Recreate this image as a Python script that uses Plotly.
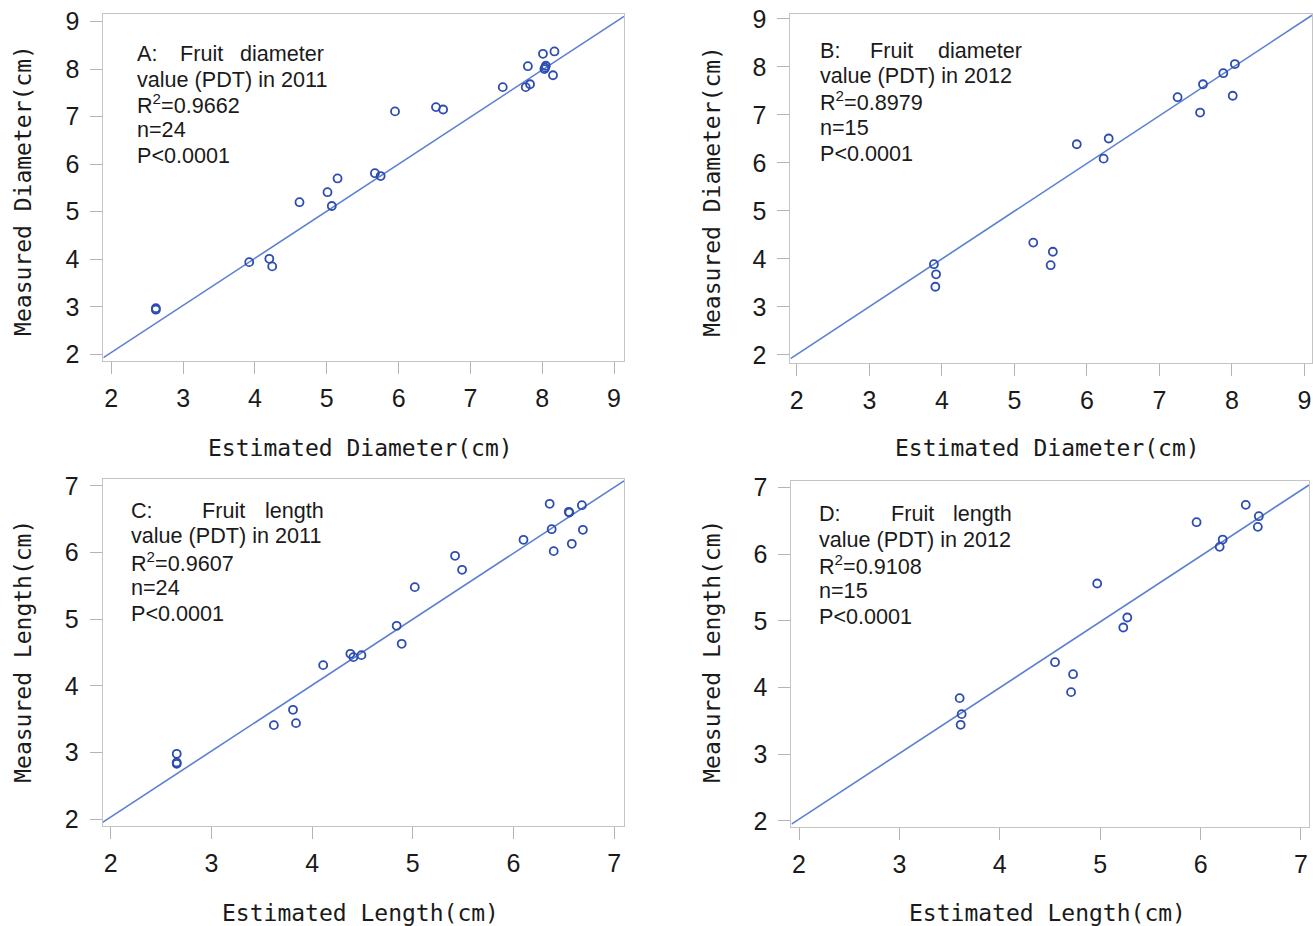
import plotly.graph_objects as go

W, H = 1313, 926

# ---------------- data ----------------
a_est = [2.62, 2.62, 3.92, 4.20, 4.24, 4.62, 5.01, 5.07, 5.15, 5.67, 5.75, 5.95,
         6.52, 6.62, 7.45, 7.77, 7.83, 7.80, 8.01, 8.17, 8.05, 8.03, 8.04, 8.15]
a_meas = [2.97, 2.94, 3.94, 4.01, 3.85, 5.20, 5.41, 5.12, 5.70, 5.81, 5.75, 7.11,
          7.20, 7.15, 7.62, 7.62, 7.68, 8.06, 8.32, 8.37, 8.07, 8.00, 8.03, 7.87]

b_est = [3.89, 3.92, 3.91, 5.26, 5.53, 5.50, 5.86, 6.23, 6.30, 7.25, 7.60, 7.56, 7.88, 8.04, 8.01]
b_meas = [3.89, 3.68, 3.42, 4.34, 4.15, 3.87, 6.39, 6.09, 6.51, 7.37, 7.64, 7.05, 7.87, 8.06, 7.40]

c_est = [2.655, 2.655, 2.655, 3.62, 3.81, 3.84, 4.11, 4.38, 4.41, 4.49, 4.84, 4.89,
         5.02, 5.42, 5.49, 6.10, 6.36, 6.38, 6.40, 6.55, 6.555, 6.58, 6.68, 6.69]
c_meas = [2.98, 2.85, 2.83, 3.41, 3.64, 3.44, 4.31, 4.48, 4.43, 4.46, 4.90, 4.63,
          5.48, 5.95, 5.74, 6.19, 6.73, 6.35, 6.02, 6.61, 6.60, 6.13, 6.71, 6.34]

d_est = [3.60, 3.62, 3.61, 4.55, 4.73, 4.71, 4.97, 5.23, 5.27, 5.96, 6.19, 6.22, 6.45, 6.58, 6.57]
d_meas = [3.84, 3.60, 3.44, 4.38, 4.20, 3.93, 5.56, 4.90, 5.05, 6.48, 6.11, 6.22, 6.74, 6.57, 6.41]

# fitted regression lines (slope, intercept)
fit_a = (0.990, 0.061)
fit_b = (0.995, 0.020)
fit_c = (0.989, 0.054)
fit_d = (0.987, 0.050)

diam_ticks = [2, 3, 4, 5, 6, 7, 8, 9]
len_ticks = [2, 3, 4, 5, 6, 7]

labels_a = ["A:", "Fruit", "diameter", "value (PDT) in 2011", "R<sup>2</sup>=0.9662", "n=24", "P<0.0001"]
labels_b = ["B:", "Fruit", "diameter", "value (PDT) in 2012", "R<sup>2</sup>=0.8979", "n=15", "P<0.0001"]
labels_c = ["C:", "Fruit", "length", "value (PDT) in 2011", "R<sup>2</sup>=0.9607", "n=24", "P<0.0001"]
labels_d = ["D:", "Fruit", "length", "value (PDT) in 2012", "R<sup>2</sup>=0.9108", "n=15", "P<0.0001"]

x_title_diam = "Estimated Diameter(cm)"
y_title_diam = "Measured Diameter(cm)"
x_title_len = "Estimated Length(cm)"
y_title_len = "Measured Length(cm)"

# ---------------- layout geometry (target pixels) ----------------
panels = [
    dict(est=a_est, meas=a_meas, fit=fit_a, ticks=diam_ticks, labels=labels_a,
         box=(102.5, 624, 12.7, 360), xr=(1.889, 9.139), yr=(1.863, 9.164),
         txt=(134, 177, 325, [52.7, 78.3, 103.3, 129, 155]),
         xt=(x_title_diam, 360, 447), yt=(y_title_diam, 22, 189)),
    dict(est=b_est, meas=b_meas, fit=fit_b, ticks=diam_ticks, labels=labels_b,
         box=(790.7, 1313, 12.7, 361.7), xr=(1.913, 9.103), yr=(1.84, 9.11),
         txt=(818, 868, 1025, [49.3, 75, 100, 126.7, 152.7]),
         xt=(x_title_diam, 1048, 447), yt=(y_title_diam, 712, 190)),
    dict(est=c_est, meas=c_meas, fit=fit_c, ticks=len_ticks, labels=labels_c,
         box=(101.7, 624, 478.3, 825.7), xr=(1.918, 7.099), yr=(1.89, 7.10),
         txt=(128.5, 199, 325, [509.3, 535, 560.7, 586.7, 612.3]),
         xt=(x_title_len, 360, 912), yt=(y_title_len, 22, 650)),
    dict(est=d_est, meas=d_meas, fit=fit_d, ticks=len_ticks, labels=labels_d,
         box=(791.7, 1310, 480, 826.7), xr=(1.925, 7.08), yr=(1.90, 7.10),
         txt=(817, 889, 1014.5, [512.7, 538.3, 564, 590, 615.7]),
         xt=(x_title_len, 1048, 912), yt=(y_title_len, 712, 650)),
]

# vertical correction observed between requested and photographed positions
V_OFF, V_SCALE = 8.0, 0.983

MARKER_COLOR = "#2c4cb0"
LINE_COLOR = "#5b7fd2"
FRAME = "#c4c4c4"
TICKC = "#b4b4b4"
TXT = "#1a1a1a"


def px(x):
    return min(1.0, max(0.0, x / W))


def py(y):
    yy = (y - V_OFF) / V_SCALE
    return min(1.0, max(0.0, 1 - yy / H))


fig = go.Figure()
annotations = []
layout = {}

for i, p in enumerate(panels):
    n = "" if i == 0 else str(i + 1)
    xa, ya = "x" + n, "y" + n
    l, r, t, b = p["box"]
    x0, x1 = p["xr"]
    m, c = p["fit"]
    fig.add_trace(go.Scatter(x=[x0, x1], y=[m * x0 + c, m * x1 + c], mode="lines",
                             line=dict(color=LINE_COLOR, width=1.6), xaxis=xa, yaxis=ya,
                             showlegend=False, hoverinfo="skip"))
    fig.add_trace(go.Scatter(x=p["est"], y=p["meas"], mode="markers",
                             marker=dict(symbol="circle-open", size=8, color=MARKER_COLOR,
                                         line=dict(width=1.8, color=MARKER_COLOR)),
                             xaxis=xa, yaxis=ya, showlegend=False))
    common = dict(showgrid=False, zeroline=False, showline=True, mirror=True,
                  linecolor=FRAME, linewidth=1, ticks="outside", ticklen=12,
                  tickcolor=TICKC, tickwidth=1.3, ticklabeloverflow="allow",
                  tickfont=dict(family="Liberation Sans, Arial", size=25, color=TXT),
                  tickvals=p["ticks"], ticktext=[str(v) for v in p["ticks"]])
    layout["xaxis" + n] = dict(common, domain=[px(l), px(r)], range=list(p["xr"]),
                               anchor=ya, ticklabelstandoff=3)
    layout["yaxis" + n] = dict(common, domain=[py(b), py(t)], range=list(p["yr"]),
                               anchor=xa, ticklabelstandoff=6)

    tx_left, tx_fruit, tx_right, ys = p["txt"]
    f = dict(family="Liberation Sans, Arial", size=21.6, color=TXT)
    lab = p["labels"]
    block = [dict(text=lab[0], x=px(tx_left), y=py(ys[0]), xanchor="left"),
             dict(text=lab[1], x=px(tx_fruit), y=py(ys[0]), xanchor="left"),
             dict(text=lab[2], x=px(tx_right), y=py(ys[0]), xanchor="right")]
    for k in range(3, 7):
        block.append(dict(text=lab[k], x=px(tx_left), y=py(ys[k - 2]), xanchor="left"))
    for a in block:
        a.update(xref="paper", yref="paper", yanchor="middle", showarrow=False, font=f)
    annotations.extend(block)

    tf = dict(family="DejaVu Sans Mono", size=23, color=TXT)
    xt, xtx, xty = p["xt"]
    annotations.append(dict(text=xt, x=px(xtx), y=py(xty), xref="paper", yref="paper",
                            xanchor="center", yanchor="middle", showarrow=False, font=tf))
    yt, ytx, yty = p["yt"]
    annotations.append(dict(text=yt, x=px(ytx), y=py(yty), xref="paper", yref="paper",
                            xanchor="center", yanchor="middle", showarrow=False, font=tf,
                            textangle=-90))

fig.update_layout(width=W, height=H, autosize=False,
                  margin=dict(l=0, r=0, t=0, b=0, pad=0),
                  paper_bgcolor="white", plot_bgcolor="white",
                  annotations=annotations, **layout)

fig.write_html("out.html", config={"displayModeBar": False},
               post_script="document.body.style.margin='0';document.body.style.overflow='hidden';")
